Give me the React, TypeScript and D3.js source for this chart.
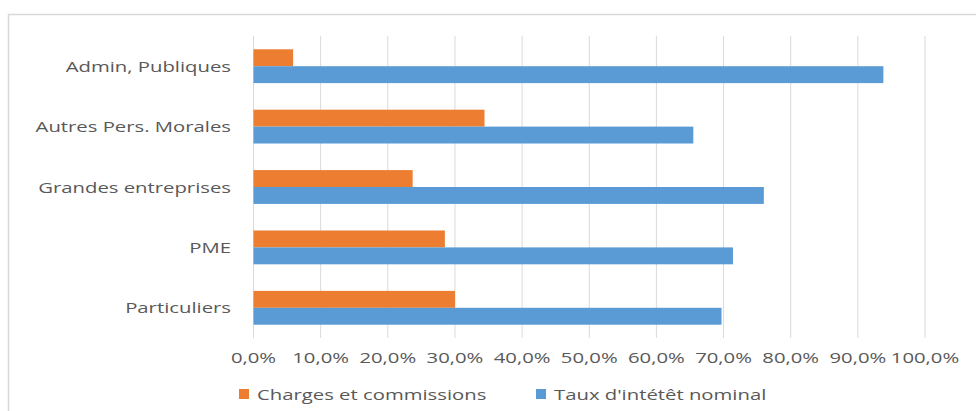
import React from "react";
import * as d3 from "d3";

const categories = ["Admin, Publiques", "Autres Pers. Morales", "Grandes entreprises", "PME", "Particuliers"];
const chargesValues = [0.059, 0.344, 0.237, 0.285, 0.300];
const tauxValues = [0.938, 0.655, 0.760, 0.714, 0.697];
const seriesNames = ["Charges et commissions", "Taux d'intétêt nominal"];
const tickValues = [0, 0.1, 0.2, 0.3, 0.4, 0.5, 0.6, 0.7, 0.8, 0.9, 1.0];

const W = 976, H = 411;
const ORANGE = "#ED7D31", BLUE = "#5B9BD5";
const TEXT = "#595959";
const FONT = "'Open Sans', 'Noto Sans', sans-serif";
const SX = 1.45;
const FS = 14;

export default function App() {
  const x = d3.scaleLinear().domain([0, 1]).range([253.5, 925]);
  const y = d3.scaleBand<string>().domain(categories).range([36, 338]).paddingInner(0.44).paddingOuter(0.22);
  const sub = d3.scaleBand<number>().domain([0, 1]).range([0, y.bandwidth()]);
  const fmt = (v: number) => d3.format(".1f")(v * 100).replace(".", ",") + "%";
  const series = [chargesValues, tauxValues];
  const colors = [ORANGE, BLUE];
  const legendX = [239, 536];
  return (
    <svg width={W} height={H} style={{ position: "absolute", left: 0, top: 0, display: "block" }} fontFamily={FONT}>
      <rect x={0} y={0} width={W} height={H} fill="#fff" />
      <rect x={8.5} y={14.5} width={W} height={H} fill="#fff" stroke="#D9D9D9" strokeWidth={1.5} />
      {tickValues.map((t) => (
        <line key={t} x1={x(t)} x2={x(t)} y1={36} y2={338} stroke="#D9D9D9" strokeWidth={1} />
      ))}
      {series.map((vals, si) =>
        categories.map((c, i) => (
          <rect key={si + "-" + c} x={x(0)} y={(y(c) as number) + (sub(si) as number)} width={x(vals[i]) - x(0)} height={sub.bandwidth()} fill={colors[si]} />
        ))
      )}
      {categories.map((c) => (
        <text key={c} transform={`translate(231,${(y(c) as number) + y.bandwidth() / 2}) scale(${SX},1)`} textAnchor="end" dominantBaseline="central" fontSize={FS} fill={TEXT}>{c}</text>
      ))}
      {tickValues.map((t) => (
        <text key={t} transform={`translate(${x(t)},357) scale(${SX},1)`} textAnchor="middle" dominantBaseline="central" fontSize={FS} fill={TEXT}>{fmt(t)}</text>
      ))}
      {seriesNames.map((s, i) => (
        <g key={s}>
          <rect x={legendX[i]} y={389} width={10} height={10} fill={colors[i]} />
          <text transform={`translate(${legendX[i] + 18},394) scale(${SX},1)`} dominantBaseline="central" fontSize={FS} fill={TEXT}>{s}</text>
        </g>
      ))}
    </svg>
  );
}
